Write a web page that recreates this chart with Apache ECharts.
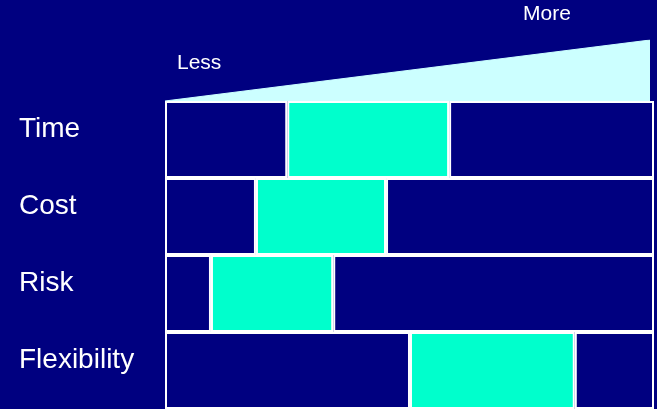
<!DOCTYPE html>
<html>
<head>
<meta charset="utf-8">
<script src="https://cdn.jsdelivr.net/npm/echarts@6/dist/echarts.min.js"></script>
<style>
  html, body { margin: 0; padding: 0; background: #000080; }
  #chart { width: 657px; height: 409px; }
</style>
</head>
<body>
<div id="chart"></div>
<script>
// rows, top to bottom
const factors = ['Time', 'Cost', 'Risk', 'Flexibility'];
// where the highlighted range starts and ends, on a 0 (less) .. 100 (more) scale
const rangeStart = [25, 18.6, 9.4, 50.1];
const rangeEnd = [58.1, 45.2, 34.4, 83.8];
// wedge on top: grows from less to more
const wedgeX = [0, 100];
const wedgeY = [0, 1];
const scaleMin = 0;
const scaleMax = 100;

const navy = '#000080';
const green = '#00ffcc';
const wedgeColor = '#ccffff';
const font = "'Liberation Sans', Arial, sans-serif";

const before = rangeStart;
const inside = rangeStart.map((s, i) => +(rangeEnd[i] - s).toFixed(2));
const after = rangeEnd.map(e => +(scaleMax - e).toFixed(2));

const chart = echarts.init(document.getElementById('chart'));

const barBase = {
  type: 'bar',
  stack: 'row',
  barWidth: '100%',
  xAxisIndex: 0,
  yAxisIndex: 0,
  silent: true,
  animation: false
};

const option = {
  backgroundColor: navy,
  animation: false,
  grid: [
    { left: 165, right: 3, top: 101, bottom: 0 },
    { left: 165, right: 7, top: 40, height: 61 }
  ],
  xAxis: [
    { type: 'value', gridIndex: 0, min: scaleMin, max: scaleMax, show: false },
    { type: 'value', gridIndex: 1, min: scaleMin, max: scaleMax, show: false }
  ],
  yAxis: [
    {
      type: 'category', gridIndex: 0, data: factors, inverse: true,
      axisLine: { show: false }, axisTick: { show: false }, splitLine: { show: false },
      axisLabel: {
        color: '#ffffff', fontFamily: font, fontSize: 28,
        align: 'left', margin: 146,
        verticalAlign: 'bottom', lineHeight: 20
      }
    },
    { type: 'value', gridIndex: 1, min: 0, max: 1, show: false }
  ],
  series: [
    Object.assign({}, barBase, {
      name: 'before', data: before,
      itemStyle: { color: navy, borderColor: '#ffffff', borderWidth: 2 }
    }),
    Object.assign({}, barBase, {
      name: 'range', data: inside,
      itemStyle: { color: green, borderColor: '#ffffff', borderWidth: 2 }
    }),
    Object.assign({}, barBase, {
      name: 'after', data: after,
      itemStyle: { color: navy, borderColor: '#ffffff', borderWidth: 2 }
    }),
    {
      type: 'line',
      xAxisIndex: 1,
      yAxisIndex: 1,
      data: wedgeX.map((x, i) => [x, wedgeY[i]]),
      symbol: 'none',
      silent: true,
      lineStyle: { color: wedgeColor, width: 1 },
      areaStyle: { color: wedgeColor, opacity: 1 }
    }
  ],
  graphic: [
    {
      type: 'text', left: 177, top: 53,
      style: { text: 'Less', fill: '#ffffff', font: '21px ' + font }
    },
    {
      type: 'text', left: 523, top: 4,
      style: { text: 'More', fill: '#ffffff', font: '21px ' + font }
    }
  ]
};

chart.setOption(option);
</script>
</body>
</html>
